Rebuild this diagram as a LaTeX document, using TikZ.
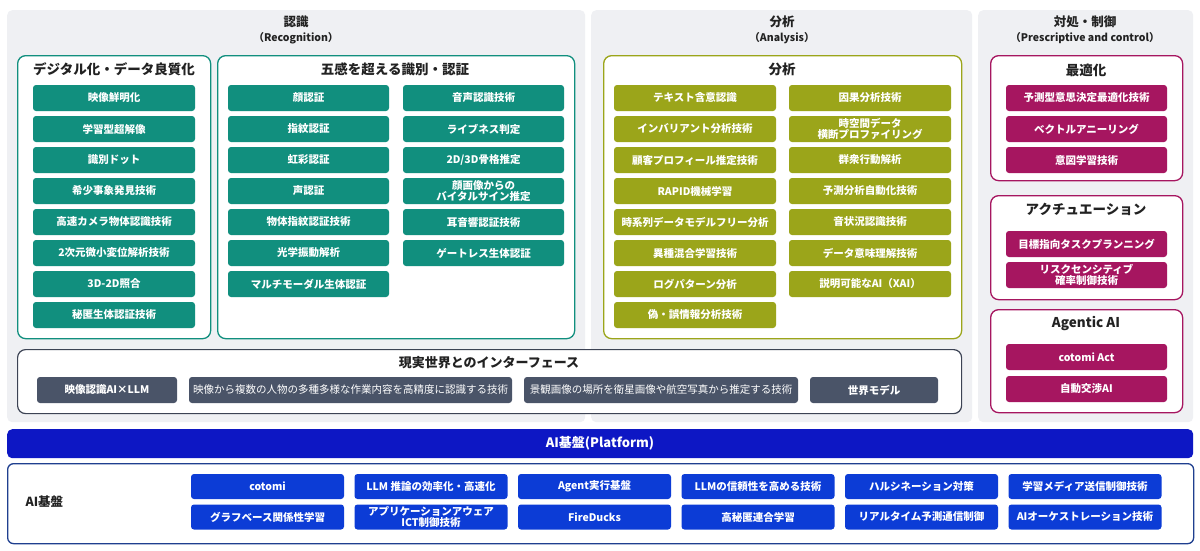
\documentclass[tikz,border=0pt]{standalone}
\usepackage{fontspec}
\setmainfont{Noto Sans CJK JP}
\definecolor{panelgray}{HTML}{EFF0F3}
\definecolor{tealc}{HTML}{118F7E}
\definecolor{olivec}{HTML}{9BA51A}
\definecolor{magc}{HTML}{A61660}
\definecolor{slatec}{HTML}{4A5468}
\definecolor{slateb}{HTML}{3C4354}
\definecolor{btnblue}{HTML}{0C3CD6}
\definecolor{platblue}{HTML}{0D17C4}
\definecolor{bordblue}{HTML}{1F3F8F}
\definecolor{txt}{HTML}{222222}
\tikzset{
 panel/.style={fill=panelgray, rounded corners=5pt, anchor=north west, inner sep=0pt},
 sect/.style={draw=#1, fill=white, rounded corners=8pt, line width=1.3pt, anchor=north west, inner sep=0pt},
 hdr/.style={font=\bfseries\fontsize{12.5}{14}\selectfont, text=txt},
 subhdr/.style={font=\bfseries\fontsize{10.5}{12}\selectfont, text=txt},
 ttl/.style={font=\bfseries\fontsize{13.5}{15}\selectfont, text=txt},
 btn/.style={fill=#1, text=white, rounded corners=3pt, minimum height=26pt, inner sep=0pt, align=center, font=\bfseries\fontsize{10.5}{11.5}\selectfont},
 thinbtn/.style={btn=slatec, font=\fontsize{10.5}{11.5}\selectfont},
}
\begin{document}
\begin{tikzpicture}[x=1pt,y=-1pt]
\fill[white] (0,0) rectangle (1200,550);
\useasboundingbox (0,0) rectangle (1200,550);

% panels
\node[panel, minimum width=578pt, minimum height=412pt] (recpanel) at (7,10) {};
\node[panel, minimum width=381pt, minimum height=412pt] (anapanel) at (591,10) {};
\node[panel, minimum width=215pt, minimum height=412pt] (prepanel) at (978,10) {};

\node[hdr] (rech) at (296,22) {認識};
\node[subhdr] (recs) at (296,38) {（Recognition）};
\node[hdr] (anah) at (782,22) {分析};
\node[subhdr] (anas) at (782,38) {（Analysis）};
\node[hdr] (preh) at (1085,22) {対処・制御};
\node[subhdr] (pres) at (1085,38) {（Prescriptive and control）};

% section boxes
\node[sect=tealc, minimum width=193pt, minimum height=283pt] (digital) at (17,55) {};
\node[sect=tealc, minimum width=357pt, minimum height=283pt] (senses) at (217,55) {};
\node[sect=olivec, minimum width=358pt, minimum height=283pt] (analysis) at (603,55) {};
\node[sect=magc, minimum width=192pt, minimum height=125pt] (optim) at (990,55) {};
\node[sect=magc, minimum width=192pt, minimum height=104pt] (actu) at (990,195) {};
\node[sect=magc, minimum width=192pt, minimum height=103pt] (agentic) at (990,309) {};
\node[sect=slateb, line width=1.2pt, minimum width=944pt, minimum height=64pt] (iface) at (17,349) {};

\node[ttl] (digitalt) at (114,69) {デジタル化・データ良質化};
\node[ttl] (sensest) at (395,69) {五感を超える識別・認証};
\node[ttl] (analysist) at (782,69) {分析};
\node[ttl] (optimt) at (1086,70) {最適化};
\node[ttl] (actut) at (1086,209) {アクチュエーション};
\node[ttl] (agentict) at (1086,323) {Agentic AI};
\node[ttl, font=\bfseries\fontsize{13}{15}\selectfont] (ifacet) at (489,363) {現実世界とのインターフェース};

% recognition buttons
\foreach \t [count=\i] in {映像鮮明化,学習型超解像,識別ドット,希少事象発見技術,高速カメラ物体認識技術,2次元微小変位解析技術,3D-2D照合,秘匿生体認証技術}
  \node[btn=tealc, minimum width=162pt] (d\i) at (114,67+31*\i) {\t};
\foreach \t [count=\i] in {顔認証,指紋認証,虹彩認証,声認証,物体指紋認証技術,光学振動解析,マルチモーダル生体認証}
  \node[btn=tealc, minimum width=161pt] (f\i) at (308.5,67+31*\i) {\t};
\foreach \t [count=\i] in {音声認識技術,ライブネス判定,2D/3D骨格推定,{顔画像からの\\バイタルサイン推定},耳音響認証技術,ゲートレス生体認証}
  \node[btn=tealc, minimum width=161pt] (g\i) at (483.5,67+31*\i) {\t};

% analysis buttons
\foreach \t [count=\i] in {テキスト含意認識,インバリアント分析技術,顧客プロフィール推定技術,RAPID機械学習,時系列データモデルフリー分析,異種混合学習技術,ログパターン分析,偽・誤情報分析技術}
  \node[btn=olivec, minimum width=162pt] (a\i) at (695,67+31*\i) {\t};
\foreach \t [count=\i] in {因果分析技術,{時空間データ\\横断プロファイリング},群衆行動解析,予測分析自動化技術,音状況認識技術,データ意味理解技術,説明可能なAI（XAI）}
  \node[btn=olivec, minimum width=162pt] (b\i) at (870,67+31*\i) {\t};

% prescriptive buttons
\foreach \t [count=\i] in {予測型意思決定最適化技術,ベクトルアニーリング,意図学習技術}
  \node[btn=magc, minimum width=161pt] (o\i) at (1086.5,67+31*\i) {\t};
\node[btn=magc, minimum width=161pt] (c1) at (1086.5,244) {目標指向タスクプランニング};
\node[btn=magc, minimum width=161pt] (c2) at (1086.5,275) {リスクセンシティブ\\確率制御技術};
\node[btn=magc, minimum width=161pt] (e1) at (1086.5,357) {cotomi Act};
\node[btn=magc, minimum width=161pt] (e2) at (1086.5,389) {自動交渉AI};

% interface buttons
\node[btn=slatec, minimum width=140pt] (i1) at (107,390) {映像認識AI×LLM};
\node[thinbtn, minimum width=323pt] (i2) at (350.5,390) {映像から複数の人物の多種多様な作業内容を高精度に認識する技術};
\node[thinbtn, minimum width=274pt] (i3) at (661,390) {景観画像の場所を衛星画像や航空写真から推定する技術};
\node[btn=slatec, minimum width=128pt] (i4) at (874,390) {世界モデル};

% platform
\node[fill=platblue, rounded corners=5pt, anchor=north west, inner sep=0pt, minimum width=1186pt, minimum height=29pt] (plat) at (7,429) {};
\node[text=white, font=\bfseries\fontsize{13}{15}\selectfont] (platt) at (600,443.5) {AI基盤(Platform)};
\node[sect=bordblue, rounded corners=6pt, minimum width=1186pt, minimum height=80pt] (base) at (7,463) {};
\node[anchor=west, text=txt, font=\bfseries\fontsize{12.5}{15}\selectfont] (baset) at (22,502) {AI基盤};

\foreach \t [count=\i] in {cotomi,LLM 推論の効率化・高速化,Agent実行基盤,LLMの信頼性を高める技術,ハルシネーション対策,学習メディア送信制御技術}
  \node[btn=btnblue, minimum width=153pt, minimum height=25pt] (p\i) at (267.5+163.5*\i-163.5,486.5) {\t};
\foreach \t [count=\i] in {グラフベース関係性学習,{アプリケーションアウェア\\ICT制御技術},FireDucks,高秘匿連合学習,リアルタイム予測通信制御,AIオーケストレーション技術}
  \node[btn=btnblue, minimum width=153pt, minimum height=25pt] (q\i) at (267.5+163.5*\i-163.5,517) {\t};
\end{tikzpicture}
\end{document}
